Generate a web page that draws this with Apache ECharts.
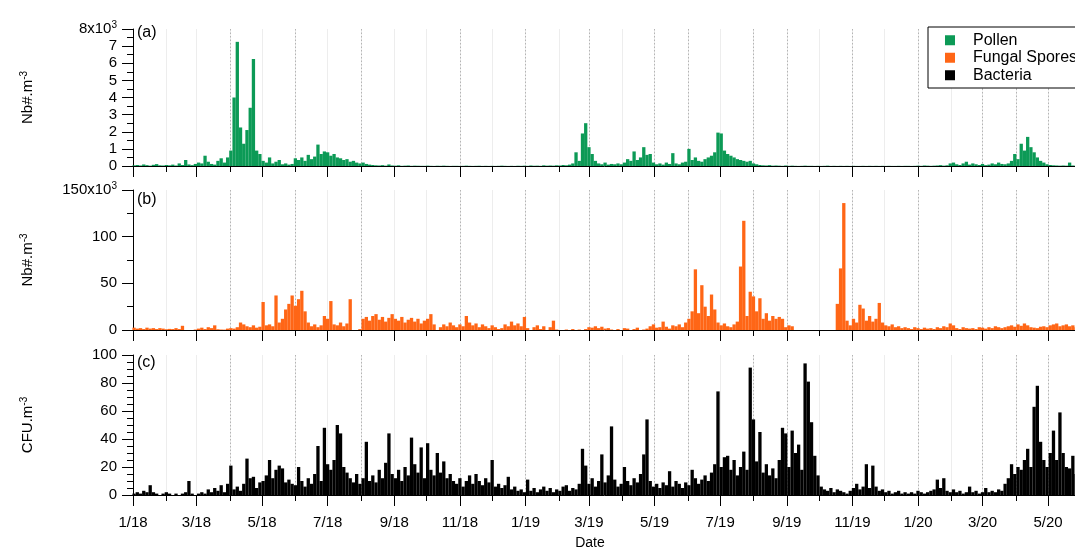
<!DOCTYPE html>
<html><head><meta charset="utf-8">
<script src="https://cdn.jsdelivr.net/npm/echarts@6/dist/echarts.min.js"></script>
<style>html,body{margin:0;padding:0;background:#fff}#c{width:1075px;height:550px}</style>
</head><body><div id="c"></div>
<script>
// ---- data (one value every 3 days starting 2018-01-02) ----
const startDate = '2018-01-02';
const stepDays = 3;
const pollen = [
40,60,30,90,50,20,70,110,40,30,
60,40,80,30,150,60,350,90,50,120,
200,150,600,250,120,80,300,450,200,500,
900,4000,7250,2250,1300,2100,3400,6250,900,700,
300,200,500,150,250,350,100,150,80,120,
450,350,500,300,650,400,550,1250,700,850,
800,600,700,500,450,350,400,250,300,200,
150,200,120,80,60,40,30,50,20,90,
30,20,40,10,20,30,10,20,15,10,
10,20,10,5,15,10,20,10,5,10,
10,5,10,20,10,5,10,15,5,10,
5,10,5,10,20,10,5,10,5,15,
10,20,10,30,15,20,10,40,20,30,
20,40,30,60,40,80,150,800,300,1900,
2500,1100,700,300,150,100,200,80,120,100,
150,100,200,400,300,850,350,500,1100,650,
700,200,100,150,80,200,120,750,150,100,
200,250,1000,350,500,300,250,400,500,600,
800,1950,1900,900,700,600,500,400,350,300,
250,300,150,100,60,40,30,50,20,30,
20,10,30,10,20,10,5,10,20,10,
10,5,10,5,10,20,5,10,5,10,
5,10,5,10,5,5,10,5,10,5,
10,5,10,5,10,5,5,10,5,10,
10,5,10,20,10,30,20,10,20,30,
50,20,40,150,200,100,60,150,250,80,
150,100,60,120,50,80,150,100,200,120,
100,150,300,700,400,1300,900,1700,1100,800,
500,300,200,100,60,40,30,20,30,20,
200,30,20];
const fungal = [
2500,1500,2000,1000,2500,1500,2000,1000,2000,1500,
800,1200,1000,2000,1000,4500,0,0,0,500,
1500,2500,1000,3000,2000,5000,800,500,400,1500,
2000,1500,3000,8000,6000,4000,3000,5000,2500,3500,
30000,5000,6000,4000,37000,8000,12000,22000,28000,37000,
26000,33000,42000,20000,8000,4000,6000,3000,5000,15000,
12000,31000,6000,5000,8000,4000,7000,33000,0,0,
1000,12000,14000,10000,15000,17000,11000,14000,9000,13000,
17000,12000,10000,14000,8000,11000,13000,9000,12000,7000,
10000,12000,17000,6000,0,3000,6000,4000,8000,5000,
3000,6000,4000,15000,8000,5000,7000,3000,6000,4000,
2000,5000,3000,1000,2000,6000,4000,9000,5000,7000,
4000,14000,2000,0,3000,5000,1000,4000,0,3000,
10000,500,0,0,500,0,1000,0,500,0,
1000,3000,2500,4000,2000,3500,1500,2000,500,0,
1000,0,2000,1500,0,1000,2500,0,500,1500,
4000,6000,2500,3000,9000,3500,1500,5000,4000,6000,
3000,8000,12000,20000,65000,18000,48000,25000,15000,38000,
22000,8000,5000,7000,4000,3000,6000,9000,68000,117000,
15000,41000,36000,20000,34000,12000,18000,10000,15000,12000,
14000,12000,3000,5000,4000,0,0,0,0,0,
0,0,0,0,0,0,0,0,28000,66000,
136000,10000,5000,12000,8000,27000,23000,10000,15000,9000,
12000,29000,8000,5000,4000,6000,3000,4000,2000,3000,
2000,1000,3000,2000,1000,2500,1500,2000,1000,3000,
2000,4000,3000,7000,5000,2000,1000,3000,2000,1500,
2000,1000,3000,2500,1500,3000,2000,4000,3000,2000,
3000,4000,5000,3500,6000,4500,7000,5000,3000,2500,
2000,3500,4000,3000,5000,6000,7000,4000,5000,6000,
4000,5000,3000];
const bacteria = [
1,2,1,3,2,7,2,1,0,1,
2,1,0,1,0,1,2,10,1,0,
1,2,1,4,2,5,3,7,2,8,
21,4,6,3,8,26,12,13,5,9,
10,14,25,12,18,21,19,9,11,8,
7,20,10,6,12,8,15,35,10,48,
22,18,25,50,44,20,16,12,9,15,
8,12,38,10,14,9,18,12,23,44,
15,12,18,10,20,14,41,22,16,34,
12,37,18,14,30,16,24,12,15,10,
8,12,6,10,14,8,15,10,7,12,
9,25,6,8,5,7,13,4,6,3,
4,2,11,3,5,2,4,6,3,5,
2,4,3,6,7,3,5,4,8,33,
21,8,12,6,10,29,9,14,49,11,
6,8,20,10,7,12,9,15,29,54,
10,6,8,5,9,7,17,6,10,8,
5,9,7,18,12,8,11,14,10,16,
22,74,20,27,28,18,25,14,20,31,
18,91,54,24,45,16,22,14,19,12,
25,48,44,20,46,30,36,18,94,81,
52,28,14,6,4,3,5,2,4,3,
2,1,3,5,8,4,6,22,5,21,
6,3,4,2,3,1,2,3,1,2,
1,2,1,3,2,1,2,3,4,11,
5,12,3,2,4,2,3,1,2,6,
2,3,1,2,5,2,3,2,4,3,
8,12,22,15,20,18,25,33,20,63,
78,38,25,20,30,46,25,59,30,20,
19,28,15];
const seriesNames = ['Pollen', 'Fungal Spores', 'Bacteria'];
const panelLabels = ['(a)', '(b)', '(c)'];
const yNames = ['Nb#.m', 'Nb#.m', 'CFU.m'];
const xMin = '2018-01-01', xMax = '2020-06-15';
const labelMonths = ['2018-01','2018-03','2018-05','2018-07','2018-09','2018-11','2019-01','2019-03','2019-05','2019-07','2019-09','2019-11','2020-01','2020-03','2020-05'];
const allMonths = ['2018-01','2018-02','2018-03','2018-04','2018-05','2018-06','2018-07','2018-08','2018-09','2018-10','2018-11','2018-12',
 '2019-01','2019-02','2019-03','2019-04','2019-05','2019-06','2019-07','2019-08','2019-09','2019-10','2019-11','2019-12',
 '2020-01','2020-02','2020-03','2020-04','2020-05','2020-06'];
const dottedMonths = ['2018-04','2018-06','2018-08','2018-11','2019-01','2019-03','2019-05','2019-06','2019-08','2019-09','2019-11','2020-01','2020-03','2020-04','2020-05'];
const yMax = [8000, 150000, 100];
const yInterval = [1000, 50000, 20];
const yMinorSplit = [2, 2, 4];

// ---- build ----
const FONT = '"Liberation Sans", Arial, sans-serif';
const colors = ['#0c9a56', '#ff6616', '#000000'];
function ts(s) { const p = s.split('-').map(Number); return Date.UTC(p[0], p[1] - 1, p[2] || 1); }
const t0 = ts(startDate);
const dates = pollen.map((_, i) => t0 + i * stepDays * 864e5);
const labelTs = labelMonths.map(ts), allTs = allMonths.map(ts), dotTs = dottedMonths.map(ts);
const minT = ts(xMin), maxT = ts(xMax);
const tops = [29, 190, 355], heights = [137, 140, 140];
const grid = tops.map((t, i) => ({ left: 133, width: 963.5, top: t, height: heights[i], outerBoundsMode: 'none', containLabel: false }));

const xAxis = [], yAxis = [], series = [];
const dataSets = [pollen, fungal, bacteria];
const black = { color: '#000', width: 1 };
const fmtMonth = v => { const d = new Date(v); return (d.getUTCMonth() + 1) + '/' + String(d.getUTCFullYear()).slice(2); };
for (let g = 0; g < 3; g++) {
  // light monthly grid + minor ticks
  xAxis.push({ type: 'value', gridIndex: g, min: minT, max: maxT, position: 'bottom',
    axisLine: { show: false }, axisTick: { show: true, customValues: allTs, length: 6, lineStyle: black },
    axisLabel: { show: false, customValues: allTs }, splitLine: { show: true, lineStyle: { color: '#ededed', width: 1 } } });
  // dotted grid lines
  xAxis.push({ type: 'value', gridIndex: g, min: minT, max: maxT, position: 'bottom',
    axisLine: { show: false }, axisTick: { show: false, customValues: dotTs },
    axisLabel: { show: false, customValues: dotTs }, splitLine: { show: true, lineStyle: { color: '#b4b4b4', width: 1, type: [1.5, 2] } } });
  // main axis
  const mainIndex = xAxis.length;
  xAxis.push({ type: 'value', gridIndex: g, min: minT, max: maxT, position: 'bottom',
    axisLine: { show: true, onZero: false, lineStyle: black },
    axisTick: { show: true, customValues: labelTs, length: 11, lineStyle: black },
    axisLabel: { show: g === 2, customValues: labelTs, margin: 20, fontSize: 15, fontFamily: FONT, color: '#000', formatter: fmtMonth },
    splitLine: { show: false } });
  const top = yMax[g];
  yAxis.push({ type: 'value', gridIndex: g, min: 0, max: top, interval: yInterval[g],
    axisLine: { show: true, lineStyle: black },
    axisTick: { show: true, length: 11, lineStyle: black },
    minorTick: { show: true, splitNumber: yMinorSplit[g], length: 6, lineStyle: black },
    splitLine: { show: false },
    axisLabel: { margin: 16, fontSize: 15, fontFamily: FONT, color: '#000',
      formatter: v => {
        if (g === 2) return String(v);
        if (v === top) return '{b|' + (v / 1000) + 'x10}{s|3}';
        return String(v / 1000);
      },
      rich: { b: { fontSize: 15, fontFamily: FONT, color: '#000', lineHeight: 18 },
              s: { fontSize: 10, fontFamily: FONT, color: '#000', verticalAlign: 'top', lineHeight: 10 } } },
    name: '{n|' + yNames[g] + '}{s|-3}', nameLocation: 'middle', nameRotate: 90, nameGap: 96,
    nameTextStyle: { rich: { n: { fontSize: 15, fontFamily: FONT, color: '#000', lineHeight: 18 },
                             s: { fontSize: 10, fontFamily: FONT, color: '#000', verticalAlign: 'top', lineHeight: 10 } } } });
  series.push({ type: 'bar', name: seriesNames[g], xAxisIndex: mainIndex, yAxisIndex: g,
    data: dataSets[g].map((v, i) => [dates[i], v]), barWidth: 3.3,
    itemStyle: { color: colors[g] }, emphasis: { disabled: true } });
}

const chart = echarts.init(document.getElementById('c'), null, { renderer: 'canvas' });
chart.setOption({
  animation: false, color: colors, grid, xAxis, yAxis, series,
  legend: { orient: 'vertical', left: 928, top: 27, icon: 'rect', itemWidth: 10, itemHeight: 10, itemGap: 0,
    padding: [4.5, 20, 4, 17], borderColor: '#000', borderWidth: 1, backgroundColor: '#fff',
    textStyle: { fontSize: 16, fontFamily: FONT, color: '#000', lineHeight: 17.5, padding: [0, 0, 0, 13] },
    data: seriesNames, selectedMode: false },
  graphic: [
    ...panelLabels.map((t, i) => ({ type: 'text', x: 137, y: [32.5, 200, 362.5][i],
      style: { text: t, font: '16px ' + FONT, fill: '#000', verticalAlign: 'middle' } })),
    { type: 'text', x: 590, y: 543, style: { text: 'Date', font: '14px ' + FONT, fill: '#000', align: 'center', verticalAlign: 'middle' } }
  ]
});
</script></body></html>
